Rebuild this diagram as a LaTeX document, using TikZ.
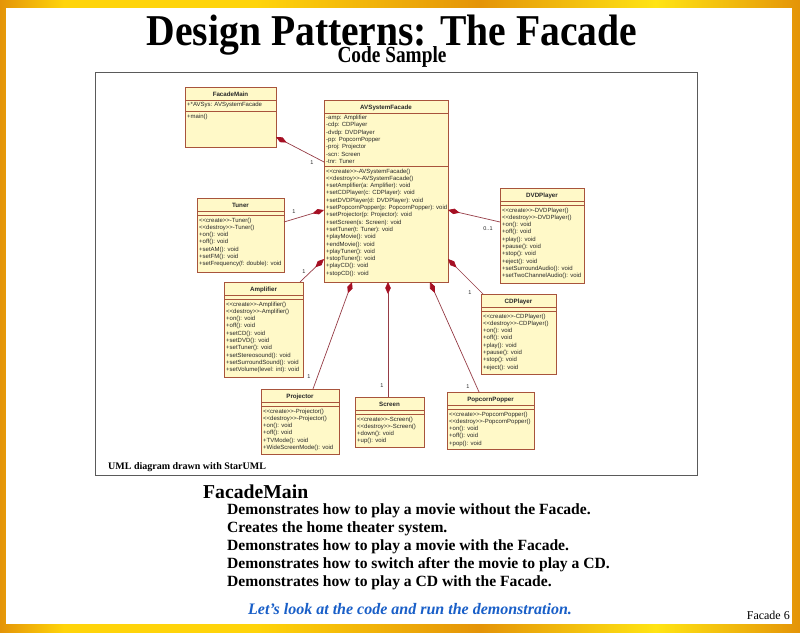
\documentclass[tikz,border=0pt]{standalone}
\usepackage{fontspec}
\setmainfont{Liberation Serif}
\newfontfamily\umlfont{Liberation Sans}
\newfontfamily\headfont[FakeStretch=0.9]{Liberation Serif}
\newfontfamily\subheadfont[FakeStretch=0.84]{Liberation Serif}
\usetikzlibrary{arrows.meta,calc}

\definecolor{umlFill}{RGB}{255,249,200}
\definecolor{umlBorder}{RGB}{168,84,60}
\definecolor{umlText}{RGB}{40,40,40}
\definecolor{linkRed}{RGB}{150,60,70}
\definecolor{diamondRed}{RGB}{165,15,35}
\definecolor{frameGray}{RGB}{90,90,90}
\definecolor{noteBlue}{RGB}{25,95,200}
\definecolor{goldDeep}{RGB}{228,148,8}
\definecolor{goldLight}{RGB}{255,212,10}
\definecolor{goldPale}{RGB}{255,228,20}

% gold slide border, the path spans 25bp..75bp of the shading
\pgfdeclarehorizontalshading{goldframe}{100bp}{%
  color(0bp)=(goldDeep); color(25bp)=(goldDeep); color(29bp)=(goldLight);
  color(41bp)=(goldLight); color(55bp)=(goldDeep); color(66bp)=(goldPale);
  color(75bp)=(goldDeep); color(100bp)=(goldDeep)}

\tikzset{
  umlbox/.style={draw=umlBorder, fill=umlFill, line width=0.7pt, inner sep=0pt, outer sep=0pt},
  umlrule/.style={draw=umlBorder, line width=0.7pt},
  umltitle/.style={font=\umlfont\bfseries\fontsize{6.2}{7}\selectfont, text=umlText, inner sep=0pt, anchor=base},
  umltext/.style={font=\umlfont\fontsize{6}{7.3}\selectfont, text=umlText, inner sep=0pt, anchor=base west},
  comp/.style={draw=linkRed, line width=0.7pt,
    {Diamond[length=12pt,width=5.5pt,color=diamondRed,fill=diamondRed]}-},
  mult/.style={font=\umlfont\fontsize{5.5}{6}\selectfont, text=umlText, inner sep=0pt},
  bodyline/.style={font=\bfseries\fontsize{15.6}{18}\selectfont, anchor=base west, inner sep=0pt},
}

% lines of a compartment, aligned on the baseline of the first one
\newcommand\umllines[1]{\begin{tabular}[t]{@{}l@{}}#1\end{tabular}}

% class box: name, left, top, width, height, attribute height, title, attributes, operations
\newcommand\umlclass[9]{%
  \node[umlbox, minimum width=#4pt, minimum height=#5pt, anchor=north west] (#1) at (#2,#3) {};
  \node[umltitle] (#1-name) at (#2+0.5*#4,#3+9.2) {#7};
  \draw[umlrule] (#2,#3+13) -- (#2+#4,#3+13);
  \draw[umlrule] (#2,#3+13+#6) -- (#2+#4,#3+13+#6);
  \if\relax\detokenize{#8}\relax\else
    \node[umltext] (#1-attrs) at (#2+2,#3+19.5) {\umllines{#8}};
  \fi
  \node[umltext] (#1-ops) at (#2+2,#3+20+#6) {\umllines{#9}};
}

\begin{document}
\begin{tikzpicture}[x=1pt,y=-1pt]
\useasboundingbox (0,0) rectangle (800,632);
\shade[shading=goldframe] (0,0) rectangle (800,632);
\fill[white] (6,8) rectangle (792,624);

% headings
\node[font=\headfont\bfseries\fontsize{44}{44}\selectfont, anchor=base, inner sep=0pt] (title) at (392,45) {Design Patterns: The Facade};
\node[font=\subheadfont\bfseries\fontsize{23}{23}\selectfont, anchor=base, inner sep=0pt] (subtitle) at (392,62) {Code Sample};

% diagram frame
\node[draw=frameGray, line width=1.2pt, minimum width=602pt, minimum height=403pt, anchor=north west, inner sep=0pt] (frame) at (95,72) {};
\node[font=\bfseries\fontsize{10}{10}\selectfont, anchor=base west, inner sep=0pt] (credit) at (108,469) {UML diagram drawn with StarUML};

% classes
\umlclass{fm}{185}{87}{91}{60}{11}{FacadeMain}{+*AVSys: AVSystemFacade}{+main()}
\umlclass{avs}{324}{100}{124}{182}{53}{AVSystemFacade}
  {-amp: Amplifier\\-cdp: CDPlayer\\-dvdp: DVDPlayer\\-pp: PopcornPopper\\-proj: Projector\\-scn: Screen\\-tnr: Tuner}
  {<<create>>-AVSystemFacade()\\<<destroy>>-AVSystemFacade()\\+setAmplifier(a: Amplifier): void\\+setCDPlayer(c: CDPlayer): void\\+setDVDPlayer(d: DVDPlayer): void\\+setPopcornPopper(p: PopcornPopper): void\\+setProjector(p: Projector): void\\+setScreen(s: Screen): void\\+setTuner(t: Tuner): void\\+playMovie(): void\\+endMovie(): void\\+playTuner(): void\\+stopTuner(): void\\+playCD(): void\\+stopCD(): void}
\umlclass{tuner}{197}{198}{87}{74}{4}{Tuner}{}
  {<<create>>-Tuner()\\<<destroy>>-Tuner()\\+on(): void\\+off(): void\\+setAM(): void\\+setFM(): void\\+setFrequency(f: double): void}
\umlclass{amp}{224}{282}{79}{95}{4}{Amplifier}{}
  {<<create>>-Amplifier()\\<<destroy>>-Amplifier()\\+on(): void\\+off(): void\\+setCD(): void\\+setDVD(): void\\+setTuner(): void\\+setStereosound(): void\\+setSurroundSound(): void\\+setVolume(level: int): void}
\umlclass{dvd}{500}{188}{84}{95}{4}{DVDPlayer}{}
  {<<create>>-DVDPlayer()\\<<destroy>>-DVDPlayer()\\+on(): void\\+off(): void\\+play(): void\\+pause(): void\\+stop(): void\\+eject(): void\\+setSurroundAudio(): void\\+setTwoChannelAudio(): void}
\umlclass{cd}{481}{294}{75}{80}{4}{CDPlayer}{}
  {<<create>>-CDPlayer()\\<<destroy>>-CDPlayer()\\+on(): void\\+off(): void\\+play(): void\\+pause(): void\\+stop(): void\\+eject(): void}
\umlclass{proj}{261}{389}{78}{65}{4}{Projector}{}
  {<<create>>-Projector()\\<<destroy>>-Projector()\\+on(): void\\+off(): void\\+TVMode(): void\\+WideScreenMode(): void}
\umlclass{scr}{355}{397}{69}{50}{4}{Screen}{}
  {<<create>>-Screen()\\<<destroy>>-Screen()\\+down(): void\\+up(): void}
\umlclass{pop}{447}{392}{87}{57}{4}{PopcornPopper}{}
  {<<create>>-PopcornPopper()\\<<destroy>>-PopcornPopper()\\+on(): void\\+off(): void\\+pop(): void}

% compositions
\draw[comp] ($(fm.north east)+(0,50)$) -- ($(avs.north west)+(0,62)$);
\draw[comp] ($(avs.north west)+(0,110)$) -- ($(tuner.north east)+(0,24)$);
\draw[comp] ($(avs.north west)+(0,159)$) -- ($(amp.north west)+(76,0)$);
\draw[comp] ($(avs.north east)+(0,110)$) -- ($(dvd.north west)+(0,34)$);
\draw[comp] ($(avs.north east)+(0,159)$) -- ($(cd.north west)+(2,0)$);
\draw[comp] ($(avs.south west)+(28,0)$) -- ($(proj.north west)+(52,0)$);
\draw[comp] ($(avs.south west)+(64,0)$) -- ($(scr.north west)+(33,0)$);
\draw[comp] ($(avs.south west)+(106,0)$) -- ($(pop.north west)+(32,0)$);

% multiplicities
\node[mult] (m-fm) at (312,163) {1};
\node[mult] (m-tuner) at (294,212) {1};
\node[mult] (m-amp) at (304,272) {1};
\node[mult] (m-dvd) at (488,229) {0..1};
\node[mult] (m-cd) at (470,293) {1};
\node[mult] (m-proj) at (309,377) {1};
\node[mult] (m-scr) at (382,386) {1};
\node[mult] (m-pop) at (468,387) {1};

% notes below the diagram
\node[font=\bfseries\fontsize{19.7}{20}\selectfont, anchor=base west, inner sep=0pt] (heading) at (203,498) {FacadeMain};
\node[bodyline] (l1) at (227,514) {Demonstrates how to play a movie without the Facade.};
\node[bodyline] (l2) at (227,532) {Creates the home theater system.};
\node[bodyline] (l3) at (227,550) {Demonstrates how to play a movie with the Facade.};
\node[bodyline] (l4) at (227,568) {Demonstrates how to switch after the movie to play a CD.};
\node[bodyline] (l5) at (227,586) {Demonstrates how to play a CD with the Facade.};
\node[font=\bfseries\itshape\fontsize{16}{16}\selectfont, text=noteBlue, anchor=base west, inner sep=0pt] (note) at (248,614) {Let’s look at the code and run the demonstration.};
\node[font=\fontsize{12}{12}\selectfont, anchor=base east, inner sep=0pt] (pageno) at (790,619) {Facade 6};
\end{tikzpicture}
\end{document}
